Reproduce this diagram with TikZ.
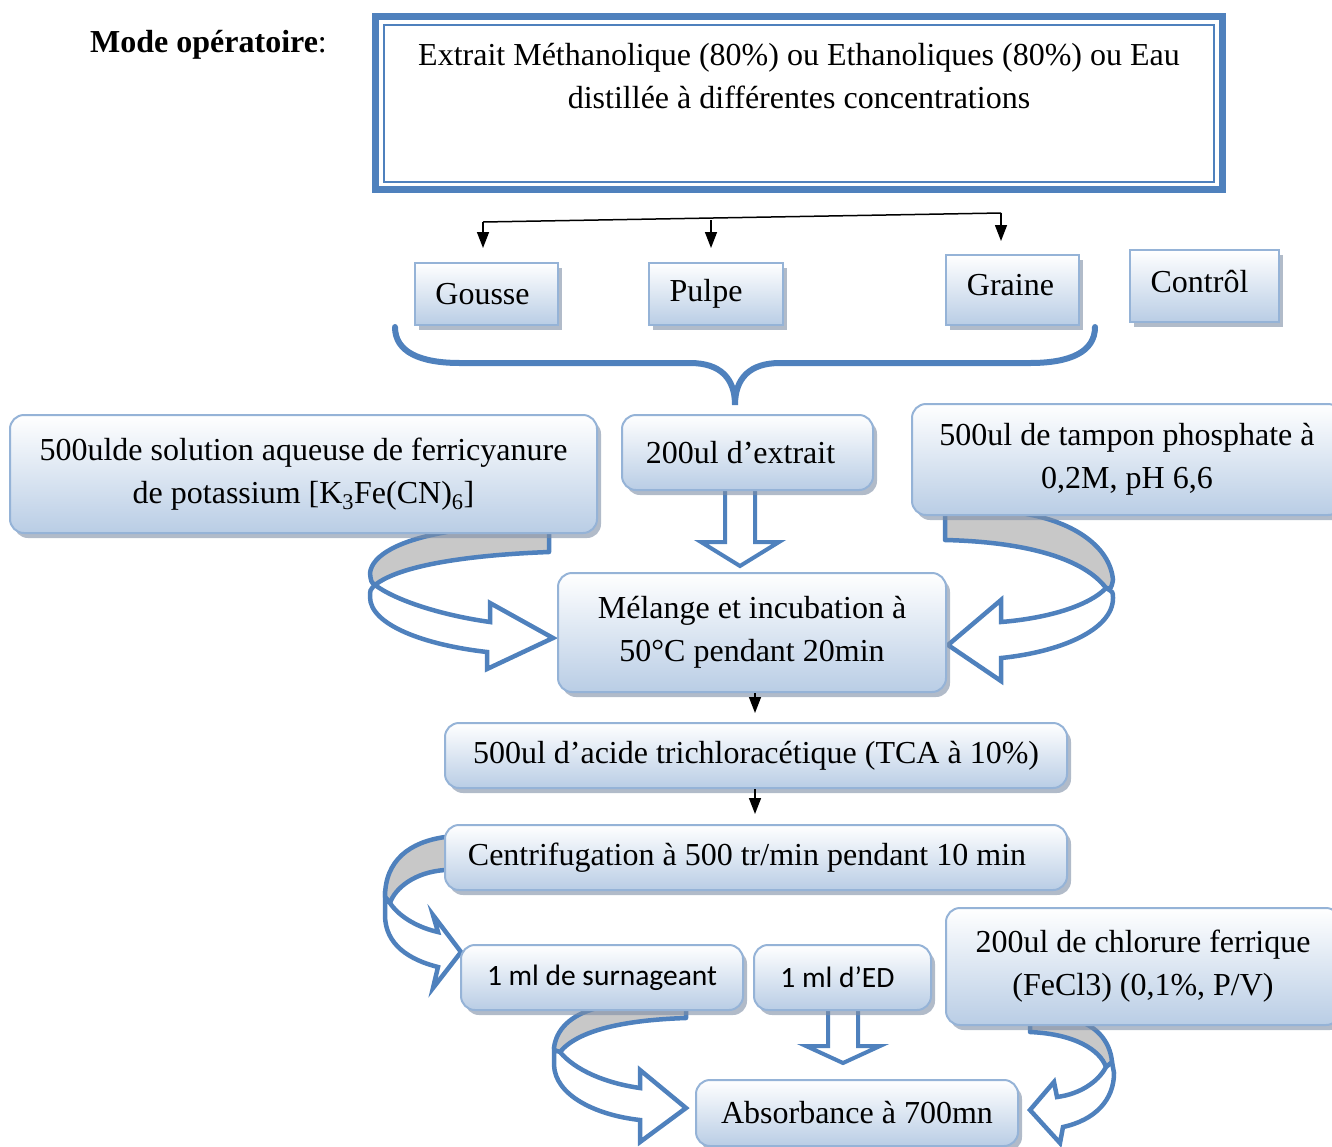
\documentclass[tikz,border=0pt]{standalone}
\usepackage{fontspec}
\setmainfont{Liberation Serif}
\newfontfamily\calfont{Carlito}
\usetikzlibrary{shadows,calc,arrows.meta}

\definecolor{accent}{HTML}{4F81BD}
\definecolor{boxline}{HTML}{95B3D7}
\definecolor{boxbot}{HTML}{B9CDE5}
\definecolor{bandgray}{HTML}{C8C8C8}
\definecolor{shadowc}{HTML}{7D8DA5}

\tikzset{
  body/.style={font=\fontsize{32}{43}\selectfont, align=center, inner sep=0pt},
  panel/.style={body, draw=boxline, line width=2pt, top color=white, bottom color=boxbot,
    rounded corners=14pt,
    drop shadow={shadow xshift=4pt, shadow yshift=-5pt, fill=shadowc, opacity=0.6}},
  tile/.style={panel, rounded corners=0pt},
  blk/.style={draw=black, line width=1.5pt},
  tip/.style={blk, -{Triangle[length=16pt,width=12pt]}},
  hollow/.style={draw=accent, fill=white, line width=4pt, line join=miter},
  bandback/.style={draw=accent, fill=bandgray, line width=4.5pt, line join=round},
  bandfront/.style={draw=accent, fill=white, line width=4.5pt, line join=miter},
}

\begin{document}
\begin{tikzpicture}[x=1pt, y=-1pt]
\useasboundingbox (0,0) rectangle (1332,1146);

% title
\node[body, anchor=base west] (title) at (90,52) {\textbf{Mode opératoire}:};

% framed heading box
\draw[accent, line width=7pt] (375.5,16.5) rectangle (1222.5,189.5);
\draw[accent, line width=2.5pt] (384,25) rectangle (1214,182);
\node[body, anchor=north] (head) at (799,43)
  {Extrait Méthanolique (80\%) ou Ethanoliques (80\%) ou Eau\\distillée à différentes concentrations};

% sample types
\node[tile, minimum width=143pt, minimum height=62pt] (gousse) at (486.5,294) {\hspace*{-8pt}Gousse};
\node[tile, minimum width=134pt, minimum height=62pt] (pulpe) at (716,294) {\hspace*{-20pt}Pulpe};
\node[tile, minimum width=133pt, minimum height=70pt, text depth=10pt] (graine) at (1012.5,290) {\hspace*{-4pt}Graine};
\node[tile, minimum width=149pt, minimum height=72pt, text depth=10pt] (ctrl) at (1204.5,286) {\hspace*{-10pt}Contrôl};

% branching from the heading
\coordinate (b1) at (483,222);
\coordinate (b2) at (711,220);
\coordinate (b3) at (1001,213);
\draw[blk] (b1) -- (b3);
\draw[tip, shorten >=14pt] (b1) -- (b1 |- gousse.north);
\draw[tip, shorten >=14pt] (b2) -- (b2 |- pulpe.north);
\draw[tip, shorten >=13pt] (b3) -- (b3 |- graine.north);

% brace gathering the samples
\draw[accent, line width=6pt, line cap=round]
  (395,327) .. controls (395,352) and (420,363) .. (460,363)
  -- (690,363) .. controls (720,363) and (735,378) .. (735,405)
  .. controls (735,378) and (750,363) .. (780,363)
  -- (1030,363) .. controls (1070,363) and (1095,352) .. (1095,327);

% curved arrow: ferricyanure -> mixture
\draw[bandback] (549,522) -- (549,552) .. controls (470,555) and (400,565) .. (375,585)
  .. controls (371,582) .. (370,573) .. controls (372,555) and (400,540) .. (447,532) -- (447,522) -- cycle;
\draw[bandfront] (375,585) .. controls (395,600) and (440,615) .. (490,622) -- (490,603) -- (553,638)
  -- (487,669) -- (487,652) .. controls (425,645) and (370,625) .. (370,597) .. controls (370,590) .. (375,585) -- cycle;

% curved arrow: phosphate buffer -> mixture
\draw[bandback] (945,505) -- (945,540) .. controls (1030,542) and (1085,560) .. (1106,588)
  .. controls (1111,589) .. (1113,580) .. controls (1110,545) and (1070,520) .. (1020,513) -- (1020,505) -- cycle;
\draw[bandfront] (1106,588) .. controls (1090,605) and (1050,618) .. (1001,622) -- (1001,600) -- (948,645)
  -- (1001,681) -- (1001,658) .. controls (1060,652) and (1113,630) .. (1113,598) .. controls (1113,592) .. (1106,588) -- cycle;

% curved arrow: centrifugation -> supernatant
\draw[bandback] (460,837) -- (445,837) .. controls (410,842) and (385,860) .. (385,897)
  -- (390,903) .. controls (395,888) and (415,872) .. (445,870) -- (460,870) -- cycle;
\draw[bandfront] (390,903) .. controls (400,918) and (420,928) .. (438,932) -- (433,915) -- (461,952)
  -- (433,988) -- (438,967) .. controls (410,960) and (385,945) .. (385,915) -- (385,897) -- cycle;

% curved arrow: supernatant -> absorbance
\draw[bandback] (686,1000) -- (686,1018) .. controls (625,1020) and (578,1030) .. (560,1052)
  .. controls (556,1055) .. (554,1048) .. controls (556,1030) and (570,1015) .. (597,1008) -- (597,1000) -- cycle;
\draw[bandfront] (560,1052) .. controls (575,1070) and (605,1083) .. (640,1088) -- (640,1070) -- (686,1108)
  -- (640,1142) -- (640,1120) .. controls (595,1115) and (555,1095) .. (554,1065) -- (554,1050) -- cycle;

% curved arrow: ferric chloride -> absorbance
\draw[bandback] (1030,1015) -- (1030,1032) .. controls (1075,1034) and (1100,1050) .. (1106,1067)
  .. controls (1110,1068) .. (1112,1062) .. controls (1110,1040) and (1095,1025) .. (1075,1020) -- (1075,1015) -- cycle;
\draw[bandfront] (1106,1067) .. controls (1098,1082) and (1080,1094) .. (1057,1097) -- (1054,1082) -- (1030,1110)
  -- (1060,1143) -- (1063,1127) .. controls (1095,1120) and (1114,1100) .. (1114,1073) -- (1112,1062) -- cycle;

% straight hollow arrows
\draw[hollow] (725,486) -- (755,486) -- (755,542) -- (779,542) -- (740,566) -- (701,542) -- (725,542) -- cycle;
\draw[hollow] (828,1006) -- (858,1006) -- (858,1046) -- (880,1046) -- (843,1063) -- (806,1046) -- (828,1046) -- cycle;

% process steps
\node[panel, minimum width=587pt, minimum height=118pt] (ferri) at (303.5,474)
  {500ulde solution aqueuse de ferricyanure\\de potassium [K\textsubscript{3}Fe(CN)\textsubscript{6}]};
\node[panel, minimum width=251pt, minimum height=75pt] (extr) at (747.5,452.5) {\hspace*{-14pt}200ul d’extrait};
\node[panel, minimum width=430pt, minimum height=111pt] (tamp) at (1127,459.5)
  {500ul de tampon phosphate à\\0,2M, pH 6,6};
\node[panel, minimum width=388pt, minimum height=119pt] (melange) at (752,632.5)
  {Mélange et incubation à\\50°C pendant 20min};
\node[panel, minimum width=622pt, minimum height=65pt] (tca) at (756,755.5)
  {500ul d’acide trichloracétique (TCA à 10\%)};
\node[panel, minimum width=622pt, minimum height=65pt] (centri) at (756,857.5)
  {\hspace*{-18pt}Centrifugation à 500 tr/min pendant 10 min};
\node[panel, minimum width=282pt, minimum height=65pt, font=\calfont\fontsize{29.5}{36}\selectfont] (surn) at (602,977.5)
  {1 ml de surnageant};
\node[panel, minimum width=177pt, minimum height=65pt, font=\calfont\fontsize{29.5}{36}\selectfont] (ed) at (842.5,977.5)
  {\hspace*{-10pt}1 ml d’ED};
\node[panel, minimum width=394pt, minimum height=117pt] (fecl) at (1143,966.5)
  {200ul de chlorure ferrique\\(FeCl3) (0,1\%, P/V)};
\node[panel, minimum width=322pt, minimum height=66pt] (abs) at (857,1113) {Absorbance à 700mn};

% sequence arrows
\draw[tip, shorten >=9pt] (melange.south -| 755,0) -- (tca.north -| 755,0);
\draw[tip, shorten >=10pt] (tca.south -| 755,0) -- (centri.north -| 755,0);
\end{tikzpicture}
\end{document}
